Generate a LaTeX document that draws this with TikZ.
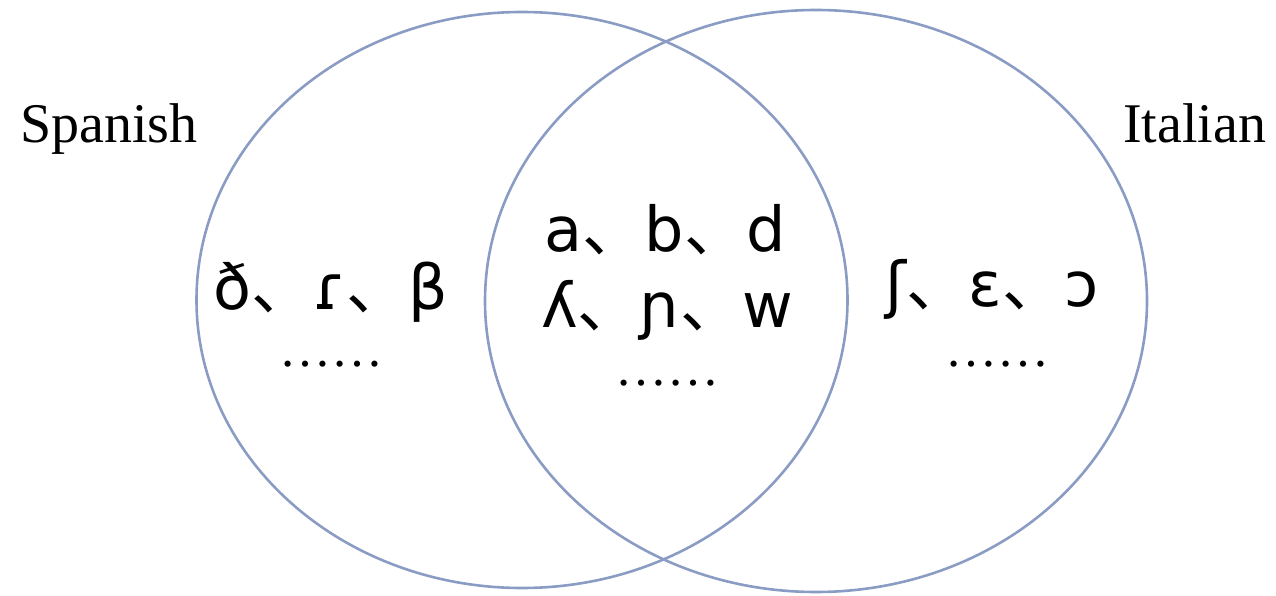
\documentclass[tikz,border=0pt]{standalone}
\usepackage{fontspec}
\setmainfont{Liberation Serif}
\newfontfamily\ipafont{DejaVu Sans}
\newfontfamily\cjkfont{Noto Sans CJK SC}
\usepackage{tikz}
\usetikzlibrary{shapes.geometric}
\definecolor{ring}{HTML}{8B9CC4}
\newcommand{\dunhao}{{\cjkfont 、}}

\begin{document}
\begin{tikzpicture}[
  x=1pt, y=1pt,
  %--- shared styles ----------------------------------------------
  setring/.style={
    ellipse, draw=ring, line width=2.6pt, inner sep=0pt
  },
  langlabel/.style={
    font=\fontsize{56}{60}\selectfont, inner sep=0pt, anchor=base west
  },
  phon/.style={
    font=\ipafont\fontsize{62}{70}\selectfont, inner sep=0pt, anchor=base
  },
  more/.style={
    font=\fontsize{52}{56}\selectfont, inner sep=0pt, anchor=base
  },
]
\useasboundingbox (0,0) rectangle (1276,595);

%% --- the two sets -----------------------------------------------
\node[setring, minimum width=651pt, minimum height=576pt] (spset) at (522, 295) {};
\node[setring, minimum width=662pt, minimum height=582pt] (itset) at (816, 294) {};

%% --- set names ---------------------------------------------------
\node[langlabel] (spname) at (20, 452) {Spanish};
\node[langlabel] (itname) at (1123, 452) {Italian};

%% --- Spanish only ------------------------------------------------
\node[phon] (sponly) at (331, 285) {ð\dunhao ɾ\dunhao β};
\node[more] (spmore) at (331, 229) {……};

%% --- shared ------------------------------------------------------
\node[phon] (both1) at (665, 343) {a\dunhao b\dunhao d};
\node[phon] (both2) at (667, 268) {ʎ\dunhao ɲ\dunhao w};
\node[more] (bothmore) at (667, 210) {……};

%% --- Italian only ------------------------------------------------
\node[phon] (itonly) at (992, 288) {ʃ\dunhao ɛ\dunhao ɔ};
\node[more] (itmore) at (997, 229) {……};

\end{tikzpicture}
\end{document}
